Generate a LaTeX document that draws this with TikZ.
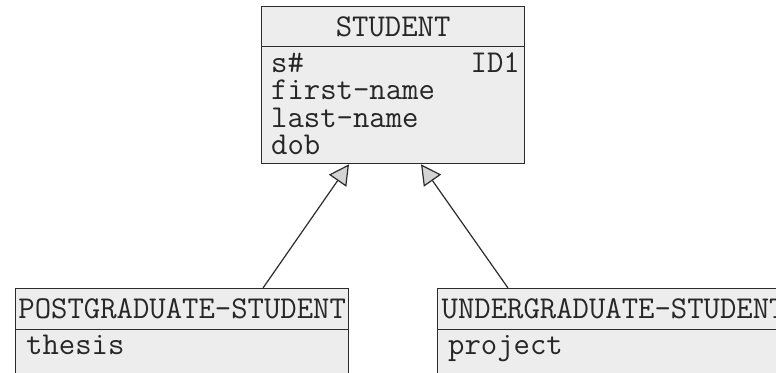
\documentclass[tikz,border=0pt]{standalone}
\usetikzlibrary{arrows.meta}
\definecolor{boxfill}{HTML}{EDEDED}
\definecolor{boxline}{HTML}{2B2B2B}
\definecolor{tipfill}{HTML}{D4D4D4}
\tikzset{
  umltext/.style={font=\ttfamily\fontsize{31.8pt}{27.5pt}\selectfont, text=black!85, inner sep=0pt},
  headbox/.style={draw=boxline, fill=boxfill, line width=1.3pt, inner sep=0pt,
    anchor=north west, umltext},
  bodybox/.style={draw=boxline, fill=boxfill, line width=1.3pt, inner sep=0pt,
    anchor=north west},
  attr/.style={umltext, anchor=base west, text height=18pt, text depth=4pt},
  attrR/.style={umltext, anchor=base east, text height=18pt, text depth=4pt},
  isa/.style={draw=boxline, line width=1.2pt,
    -{Triangle[fill=tipfill, length=20pt, width=21pt, line width=1.2pt]}},
}
\begin{document}
\begin{tikzpicture}[x=1pt, y=-1pt]
  \useasboundingbox (0,0) rectangle (776,372);
  \clip (0,0) rectangle (776,372);

  % STUDENT entity
  \node[bodybox, minimum width=263pt, minimum height=117pt] (stBody) at (261,46) {};
  \node[headbox, minimum width=263pt, minimum height=40pt] (stHead) at (261,6) {STUDENT};
  \node[attr]  (stA1) at (271,72)  {s\#};
  \node[attrR] (stId) at (520,72)  {ID1};
  \node[attr]  (stA2) at (271,99.5) {first-name};
  \node[attr]  (stA3) at (271,127) {last-name};
  \node[attr]  (stA4) at (271,154.5) {dob};

  % POSTGRADUATE-STUDENT entity
  \node[bodybox, minimum width=333pt, minimum height=80pt] (pgBody) at (15,329) {};
  \node[headbox, minimum width=333pt, minimum height=41pt] (pgHead) at (15,288) {POSTGRADUATE-STUDENT};
  \node[attr] (pgA1) at (26,354) {thesis};

  % UNDERGRADUATE-STUDENT entity (runs past the right edge)
  \node[bodybox, minimum width=352pt, minimum height=80pt] (ugBody) at (437,329) {};
  \node[headbox, minimum width=352pt, minimum height=41pt] (ugHead) at (437,288) {UNDERGRADUATE-STUDENT};
  \node[attr] (ugA1) at (448,354) {project};

  % generalisation links
  \draw[isa] ([xshift=248pt]pgHead.north west) -- ([xshift=88pt]stBody.south west);
  \draw[isa] ([xshift=71pt]ugHead.north west) -- ([xshift=160pt]stBody.south west);
\end{tikzpicture}
\end{document}
